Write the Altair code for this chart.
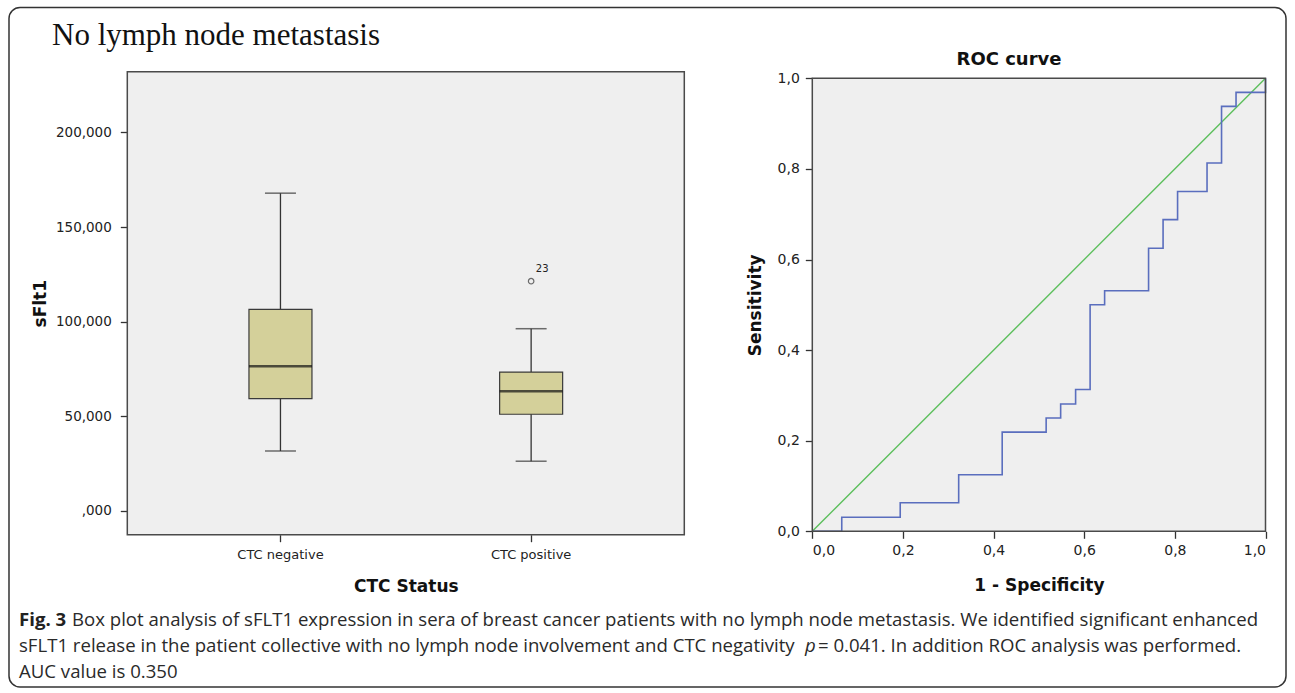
import altair as alt
import pandas as pd

# ---------------- data ----------------
categories = ["CTC negative", "CTC positive"]
whisker_low = [31700, 26300]
q1_values = [59400, 51100]
median_values = [76500, 63200]
q3_values = [106500, 73400]
whisker_high = [167900, 96300]

outlier_cat = ["CTC positive"]
outlier_values = [121400]
outlier_labels = ["23"]

box_ticks = [0, 50000, 100000, 150000, 200000]

roc_fpr = [0, 0.065, 0.194, 0.323, 0.419, 0.516, 0.548, 0.581, 0.613, 0.645,
           0.742, 0.774, 0.806, 0.871, 0.903, 0.935, 1.0]
roc_tpr = [0, 0.031, 0.063, 0.125, 0.219, 0.25, 0.281, 0.313, 0.5, 0.531,
           0.625, 0.688, 0.75, 0.813, 0.938, 0.969, 1.0]
ref_fpr = [0, 1]
ref_tpr = [0, 1]
roc_ticks = [0, 0.2, 0.4, 0.6, 0.8, 1.0]

main_title = "No lymph node metastasis"
roc_title = "ROC curve"
cap_bold = "Fig. 3"
cap_line1 = "Box plot analysis of sFLT1 expression in sera of breast cancer patients with no lymph node metastasis. We identified significant enhanced"
cap_line2a = "sFLT1 release in the patient collective with no lymph node involvement and CTC negativity"
cap_line2p = "p"
cap_line2b = "= 0.041. In addition ROC analysis was performed."
cap_line3 = "AUC value is 0.350"

W, H = 1295, 693
AX_FONT = "DejaVu Sans"
GRAY_BG = "#efefef"
FRAME = "#4a4a4a"

# box plot panel geometry
BX0, BX1, BY0, BY1 = 127.3, 684.3, 71.7, 534.7
# roc panel geometry
RX0, RX1, RY0, RY1 = 812.3, 1265.5, 78.3, 531.3

box_df = pd.DataFrame({
    "cat": categories, "low": whisker_low, "q1": q1_values,
    "med": median_values, "q3": q3_values, "high": whisker_high,
})
out_df = pd.DataFrame({"cat": outlier_cat, "val": outlier_values, "lab": outlier_labels})
roc_df = pd.DataFrame({"fpr": roc_fpr, "tpr": roc_tpr})
ref_df = pd.DataFrame({"fpr": ref_fpr, "tpr": ref_tpr})

# ---------------- box plot ----------------
box_xscale = alt.Scale(range=[BX0, BX1], paddingInner=0.5, paddingOuter=0.361)
box_xaxis = alt.Axis(
    orient="bottom", offset=BY1 - H, domain=False, tickSize=7, tickWidth=1.3,
    tickColor="#333", labelFont=AX_FONT, labelFontSize=13, labelColor="#222",
    labelPadding=7, labelAngle=0, title="CTC Status", titleFont=AX_FONT,
    titleFontSize=17, titleFontWeight="bold", titleColor="#111",
    titleX=(BX0 + BX1) / 2, titleY=51.5, titleBaseline="middle", titleAlign="center",
)
box_yscale = alt.Scale(domain=[-12520, 232065], range=[BY1, BY0], nice=False, zero=False)
box_yaxis = alt.Axis(
    orient="left", offset=-BX0, domain=False, values=box_ticks, tickSize=7,
    tickWidth=1.3, tickColor="#333", labelFont=AX_FONT, labelFontSize=13.5,
    labelColor="#222", labelPadding=9, grid=False,
    labelExpr="datum.value == 0 ? ',000' : format(datum.value/1000, 'd') + ',000'",
    title="sFlt1", titleFont=AX_FONT, titleFontSize=17, titleFontWeight="bold",
    titleColor="#111", titleX=40 - BX0, titleY=(BY0 + BY1) / 2,
    titleBaseline="middle", titleAlign="center", titleAngle=270,
)


def bx():
    return alt.X("cat:N", sort=categories, scale=box_xscale, axis=box_xaxis, title="CTC Status")


def by(field):
    return alt.Y(field, type="quantitative", scale=box_yscale, axis=box_yaxis, title="sFlt1")


whisk = alt.Chart(box_df).mark_rule(color="#333", strokeWidth=1.3).encode(
    x=bx(), y=by("low"), y2="high")
boxes = alt.Chart(box_df).mark_bar(size=63, fill="#d4d09a", stroke="#3a3a3a", strokeWidth=1.2).encode(
    x=bx(), y=by("q1"), y2="q3")
med = alt.Chart(box_df).mark_tick(size=63, thickness=2.5, color="#111").encode(x=bx(), y=by("med"))
cap_lo = alt.Chart(box_df).mark_tick(size=31, thickness=1.5, color="#333").encode(x=bx(), y=by("low"))
cap_hi = alt.Chart(box_df).mark_tick(size=31, thickness=1.5, color="#333").encode(x=bx(), y=by("high"))
outl = alt.Chart(out_df).mark_point(shape="circle", size=30, filled=False, color="#333",
                                    strokeWidth=1.2).encode(x=bx(), y=by("val"))
outl_lab = alt.Chart(out_df).mark_text(dx=11, dy=-12, fontSize=10, font=AX_FONT, color="#222").encode(
    x=bx(), y=by("val"), text="lab:N")

box_chart = alt.layer(whisk, boxes, med, cap_lo, cap_hi, outl, outl_lab)

# ---------------- ROC ----------------
roc_xscale = alt.Scale(domain=[0, 1], range=[RX0, RX1], nice=False, zero=False)
roc_yscale = alt.Scale(domain=[0, 1], range=[RY1, RY0], nice=False, zero=False)
roc_xaxis = alt.Axis(
    orient="bottom", offset=RY1 - H, domain=False, values=roc_ticks, tickSize=7,
    tickWidth=1.3, tickColor="#333", labelFont=AX_FONT, labelFontSize=14,
    labelColor="#222", labelPadding=5, grid=False,
    labelExpr="replace(format(datum.value, '.1f'), '.', ',')",
    title="1 - Specificity", titleFont=AX_FONT, titleFontSize=17, titleFontWeight="bold",
    titleColor="#111", titleX=(RX0 + RX1) / 2, titleY=54, titleBaseline="middle", titleAlign="center",
)
roc_yaxis = alt.Axis(
    orient="left", offset=-RX0, domain=False, values=roc_ticks, tickSize=7,
    tickWidth=1.3, tickColor="#333", labelFont=AX_FONT, labelFontSize=14,
    labelColor="#222", labelPadding=6, grid=False,
    labelExpr="replace(format(datum.value, '.1f'), '.', ',')",
    title="Sensitivity", titleFont=AX_FONT, titleFontSize=17, titleFontWeight="bold",
    titleColor="#111", titleX=755 - RX0, titleY=(RY0 + RY1) / 2,
    titleBaseline="middle", titleAlign="center", titleAngle=270,
)


def rx():
    return alt.X("fpr:Q", scale=roc_xscale, axis=roc_xaxis, title="1 - Specificity")


def ry():
    return alt.Y("tpr:Q", scale=roc_yscale, axis=roc_yaxis, title="Sensitivity")


ref_line = alt.Chart(ref_df).mark_line(color="#5cbf5c", strokeWidth=1.4).encode(x=rx(), y=ry())
roc_line = alt.Chart(roc_df).mark_line(color="#5a6ebe", strokeWidth=1.6, interpolate="step-after").encode(
    x=rx(), y=ry())
roc_chart = alt.layer(ref_line, roc_line)

# ---------------- decorations ----------------
one = pd.DataFrame({"k": [0]})
bg_box = alt.Chart(one).mark_rect(fill=GRAY_BG).encode(
    x=alt.value(BX0), x2=alt.value(BX1), y=alt.value(BY0), y2=alt.value(BY1))
bg_roc = alt.Chart(one).mark_rect(fill=GRAY_BG).encode(
    x=alt.value(RX0), x2=alt.value(RX1), y=alt.value(RY0), y2=alt.value(RY1))
fr_box = alt.Chart(one).mark_rect(fillOpacity=0, stroke=FRAME, strokeWidth=1.5).encode(
    x=alt.value(BX0), x2=alt.value(BX1), y=alt.value(BY0), y2=alt.value(BY1))
fr_roc = alt.Chart(one).mark_rect(fillOpacity=0, stroke=FRAME, strokeWidth=1.5).encode(
    x=alt.value(RX0), x2=alt.value(RX1), y=alt.value(RY0), y2=alt.value(RY1))
border = alt.Chart(one).mark_rect(fillOpacity=0, stroke="#333", strokeWidth=1.5, cornerRadius=11).encode(
    x=alt.value(9), x2=alt.value(1286), y=alt.value(7.5), y2=alt.value(687))


def txt(s, x, y, **kw):
    return alt.Chart(pd.DataFrame({"t": [s]})).mark_text(**kw).encode(
        x=alt.value(x), y=alt.value(y), text="t:N")


CAP_FONT = "Open Sans"
CAP_SIZE = 18.6
CAP_COL = "#2a2a2a"
texts = [
    txt(main_title, 52, 45, align="left", baseline="alphabetic", font="Liberation Serif",
        fontSize=31, color="#111"),
    txt(roc_title, 1009, 60, align="center", baseline="middle", font=AX_FONT, fontSize=18,
        fontWeight="bold", color="#111"),
    txt(cap_bold, 19, 620, align="left", baseline="middle", font=CAP_FONT, fontSize=CAP_SIZE,
        fontWeight="bold", color="#222"),
    txt(cap_line1, 72, 620, align="left", baseline="middle", font=CAP_FONT, fontSize=CAP_SIZE,
        color=CAP_COL),
    txt(cap_line2a, 19, 646, align="left", baseline="middle", font=CAP_FONT, fontSize=CAP_SIZE,
        color=CAP_COL),
    txt(cap_line2p, 805, 646, align="left", baseline="middle", font=CAP_FONT, fontSize=CAP_SIZE,
        fontStyle="italic", color=CAP_COL),
    txt(cap_line2b, 818, 646, align="left", baseline="middle", font=CAP_FONT, fontSize=CAP_SIZE,
        color=CAP_COL),
    txt(cap_line3, 19, 672, align="left", baseline="middle", font=CAP_FONT, fontSize=CAP_SIZE,
        color=CAP_COL),
]

chart = alt.layer(
    bg_box, bg_roc, box_chart, roc_chart, fr_box, fr_roc, border, *texts
).resolve_scale(x="independent", y="independent").properties(
    width=W, height=H, autosize=alt.AutoSizeParams(type="none"), padding=0,
    background="white",
).configure_view(stroke=None)

chart.save("out.html", embed_options={"renderer": "svg", "actions": False})
